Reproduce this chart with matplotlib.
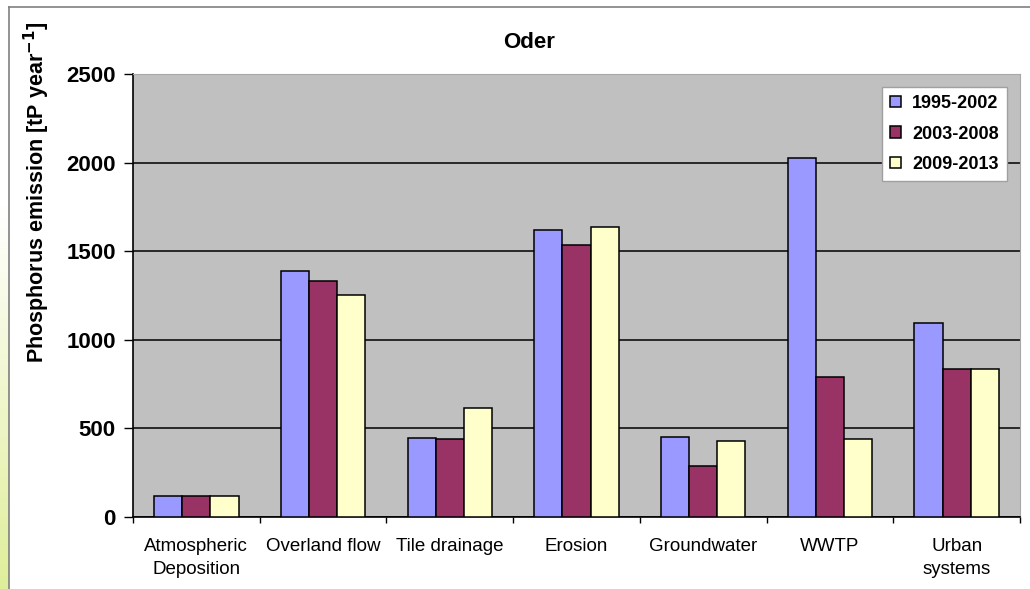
import numpy as np
import matplotlib
matplotlib.use("Agg")
import matplotlib.pyplot as plt
from matplotlib.lines import Line2D

plt.rcParams['font.family'] = ['Liberation Sans', 'DejaVu Sans']

# Data
categories = ["Atmospheric\nDeposition", "Overland flow", "Tile drainage", "Erosion",
              "Groundwater", "WWTP", "Urban\nsystems"]
periods = ["1995-2002", "2003-2008", "2009-2013"]
p1995_2002 = [119, 1388, 447, 1620, 453, 2027, 1095]
p2003_2008 = [119, 1332, 438, 1533, 288, 788, 837]
p2009_2013 = [119, 1253, 613, 1638, 431, 438, 837]
yticks = [0, 500, 1000, 1500, 2000, 2500]

series = [p1995_2002, p2003_2008, p2009_2013]
colors = ["#9999FF", "#993366", "#FFFFCC"]

W, H = 1030, 589
fig = plt.figure(figsize=(W / 100, H / 100), dpi=100)
fig.patch.set_facecolor("white")

# Left decorative gradient strip and chart frame
strip = fig.add_axes([0, 0, 9 / W, 1])
grad = np.linspace(0, 1, 256).reshape(-1, 1)
top_c = np.array([1.0, 1.0, 1.0])
bot_c = np.array([0xDF, 0xEE, 0x9A]) / 255
t = np.clip((grad - 0.35) / 0.65, 0, 1)
img = top_c * (1 - t[..., None]) + bot_c * t[..., None]
strip.imshow(img[:, 0, :][:, None, :], aspect="auto", extent=[0, 1, 1, 0])
strip.set_axis_off()
fig.add_artist(Line2D([9 / W, 9 / W], [0, 1 - 7 / H], color="#808080", lw=1.2,
                      transform=fig.transFigure))
fig.add_artist(Line2D([9 / W, 1], [1 - 7 / H, 1 - 7 / H], color="#808080", lw=1.2,
                      transform=fig.transFigure))

left, right, bottom, top = 133 / W, 1020 / W, 1 - 517 / H, 1 - 74 / H
ax = fig.add_axes([left, bottom, right - left, top - bottom])
ax.set_facecolor("#C0C0C0")

x = np.arange(len(categories))
bw = 1 / 4.5
for i, (vals, c, lab) in enumerate(zip(series, colors, periods)):
    ax.bar(x + (i - 1) * bw, vals, width=bw, color=c, edgecolor="black",
           linewidth=1.1, label=lab, zorder=3)

ax.set_xlim(-0.5, len(categories) - 0.5)
ax.set_ylim(0, 2500)
ax.set_yticks(yticks)
ax.yaxis.grid(True, color="black", linewidth=1.1, zorder=1)
ax.set_axisbelow(True)

for s in ["top", "right"]:
    ax.spines[s].set_color("#A8A8A8")
    ax.spines[s].set_linewidth(0.8)
ax.spines["left"].set_linewidth(1.2)
ax.spines["bottom"].set_linewidth(1.2)

ax.set_xticks(x)
ax.set_xticklabels(categories, fontsize=13.5, linespacing=1.45)
ax.tick_params(axis="x", which="major", length=0, pad=15)
ax.set_xticks(np.arange(-0.5, len(categories), 1), minor=True)
ax.tick_params(axis="x", which="minor", length=4.5, width=1, direction="out")
ax.tick_params(axis="y", length=6.5, width=1, direction="out", pad=6,
               labelsize=16)
for lbl in ax.get_yticklabels():
    lbl.set_fontweight("bold")

fig.text(37 / W, 1 - 192 / H, "Phosphorus emission [tP year$^{\\mathbf{-1}}$]",
         rotation=90, ha="center", va="center", fontsize=15.5, fontweight="bold")
fig.text(529 / W, 1 - 42 / H, "Oder", ha="center", va="center", fontsize=16,
         fontweight="bold")

leg = ax.legend(loc="upper right", bbox_to_anchor=(0.985, 0.971), borderaxespad=0,
                frameon=True, fancybox=False, prop={"weight": "bold", "size": 13},
                handlelength=0.6, handleheight=0.6, handletextpad=0.6,
                labelspacing=0.75, borderpad=0.45)
leg.get_frame().set_edgecolor("#A0A0A0")
leg.get_frame().set_linewidth(1)
leg.get_frame().set_facecolor("white")
leg.get_frame().set_alpha(1)

fig.savefig("out.png", dpi=100)
